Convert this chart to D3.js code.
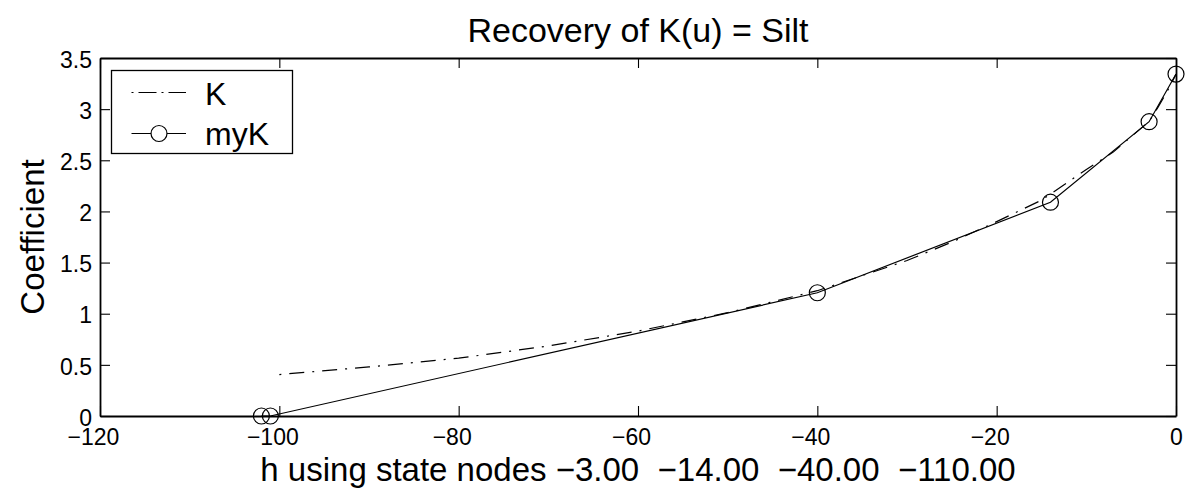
<!DOCTYPE html>
<html>
<head>
<meta charset="utf-8">
<script src="https://cdn.jsdelivr.net/npm/d3@7"></script>
<style>
  html, body { margin: 0; padding: 0; background: #fff; }
  svg { display: block; font-family: "Liberation Sans", Arial, Helvetica, sans-serif; }
</style>
</head>
<body>
<svg id="chart" width="1190" height="491"></svg>
<script>
// Reference conductivity curve K(h)
const kH   = [-100, -90, -80, -70, -60, -50, -40, -30, -25, -20, -15, -10, -7, -5, -3, -2, -1, 0];
const kVal = [0.405, 0.48, 0.565, 0.685, 0.83, 1.01, 1.225, 1.52, 1.70, 1.90, 2.11, 2.41, 2.58, 2.73, 2.88, 3.02, 3.17, 3.34];

// Recovered coefficient at the state nodes
const myH   = [-102, -101, -40, -14, -3, 0];
const myVal = [0, 0, 1.205, 2.09, 2.877, 3.343];

const xTicks = [-120, -100, -80, -60, -40, -20, 0];
const yTicks = [0, 0.5, 1, 1.5, 2, 2.5, 3, 3.5];

const titleText = "Recovery of K(u) = Silt";
const xLabelText = "h using state nodes \u22123.00  \u221214.00  \u221240.00  \u2212110.00";
const yLabelText = "Coefficient";
const legendNames = ["K", "myK"];

const svg = d3.select("#chart");
const plotL = 100, plotR = 1176, plotT = 58, plotB = 416;

const x = d3.scaleLinear().domain([-120, 0]).range([plotL, plotR]);
const y = d3.scaleLinear().domain([0, 3.5]).range([plotB, plotT]);

const fmtY = d => d === 0 ? "0" : d3.format("~g")(d);
const tickLen = 10;

// Axes: bottom/left labelled, top/right ticks only, ticks pointing inward
const gx = svg.append("g").attr("transform", `translate(0,${plotB})`)
  .call(d3.axisBottom(x).tickValues(xTicks).tickSizeInner(-tickLen).tickSizeOuter(0).tickPadding(12.5));
const gxt = svg.append("g").attr("transform", `translate(0,${plotT})`)
  .call(d3.axisTop(x).tickValues(xTicks).tickSizeInner(-tickLen).tickSizeOuter(0).tickFormat(""));
const gy = svg.append("g").attr("transform", `translate(${plotL},0)`)
  .call(d3.axisLeft(y).tickValues(yTicks).tickFormat(fmtY).tickSizeInner(-tickLen).tickSizeOuter(0).tickPadding(8));
const gyr = svg.append("g").attr("transform", `translate(${plotR},0)`)
  .call(d3.axisRight(y).tickValues(yTicks).tickSizeInner(-tickLen).tickSizeOuter(0).tickFormat(""));

[gx, gxt, gy, gyr].forEach(g => {
  g.select(".domain").attr("stroke", "#000").attr("stroke-width", 1.8);
  g.selectAll(".tick line").attr("stroke", "#000").attr("stroke-width", 1.1);
  g.selectAll(".tick text").attr("fill", "#000").attr("font-size", 23)
    .attr("font-family", "Liberation Sans, Arial, sans-serif");
});
gx.selectAll(".tick text").attr("dx", d => d < 0 ? -7 : 0);
gy.selectAll(".tick text").attr("dy", "0.4em");

// Reference curve, dash-dot
const line = d3.line().x(d => x(d[0])).y(d => y(d[1]));
svg.append("path")
  .datum(d3.zip(kH, kVal))
  .attr("d", line)
  .attr("fill", "none")
  .attr("stroke", "#000")
  .attr("stroke-width", 1.2)
  .attr("stroke-dasharray", "2,8,15,8");

// Recovered curve, solid with open circle markers
const myPts = d3.zip(myH, myVal);
svg.append("path")
  .datum(myPts)
  .attr("d", line)
  .attr("fill", "none")
  .attr("stroke", "#000")
  .attr("stroke-width", 1.2);
svg.append("g").selectAll("circle")
  .data(myPts)
  .join("circle")
  .attr("cx", d => x(d[0]))
  .attr("cy", d => y(d[1]))
  .attr("r", 8)
  .attr("fill", "none")
  .attr("stroke", "#000")
  .attr("stroke-width", 1.2);

// Legend
const lg = svg.append("g");
lg.append("rect")
  .attr("x", 111.5).attr("y", 70.5).attr("width", 181).attr("height", 83)
  .attr("fill", "#fff").attr("stroke", "#000").attr("stroke-width", 1.3);
lg.append("line")
  .attr("x1", 131.5).attr("x2", 186).attr("y1", 92.5).attr("y2", 92.5)
  .attr("stroke", "#000").attr("stroke-width", 1.2)
  .attr("stroke-dasharray", "2,5,18,5");
lg.append("line")
  .attr("x1", 131.5).attr("x2", 186).attr("y1", 133.5).attr("y2", 133.5)
  .attr("stroke", "#000").attr("stroke-width", 1.2);
lg.append("circle")
  .attr("cx", 159).attr("cy", 133.5).attr("r", 8)
  .attr("fill", "#fff").attr("stroke", "#000").attr("stroke-width", 1.2);
lg.selectAll("text.lgtext")
  .data(legendNames)
  .join("text")
  .attr("class", "lgtext")
  .attr("x", 205)
  .attr("y", (d, i) => i === 0 ? 105 : 145)
  .attr("font-size", 32)
  .attr("fill", "#000")
  .text(d => d);

// Title and axis labels
svg.append("text")
  .attr("x", (plotL + plotR) / 2).attr("y", 42)
  .attr("text-anchor", "middle").attr("font-size", 34).attr("fill", "#000")
  .text(titleText);
svg.append("text")
  .attr("x", (plotL + plotR) / 2).attr("y", 481)
  .attr("text-anchor", "middle").attr("font-size", 33).attr("fill", "#000")
  .attr("xml:space", "preserve").style("white-space", "pre")
  .text(xLabelText);
svg.append("text")
  .attr("transform", `translate(44,${(plotT + plotB) / 2}) rotate(-90)`)
  .attr("text-anchor", "middle").attr("font-size", 33).attr("fill", "#000")
  .text(yLabelText);
</script>
</body>
</html>
